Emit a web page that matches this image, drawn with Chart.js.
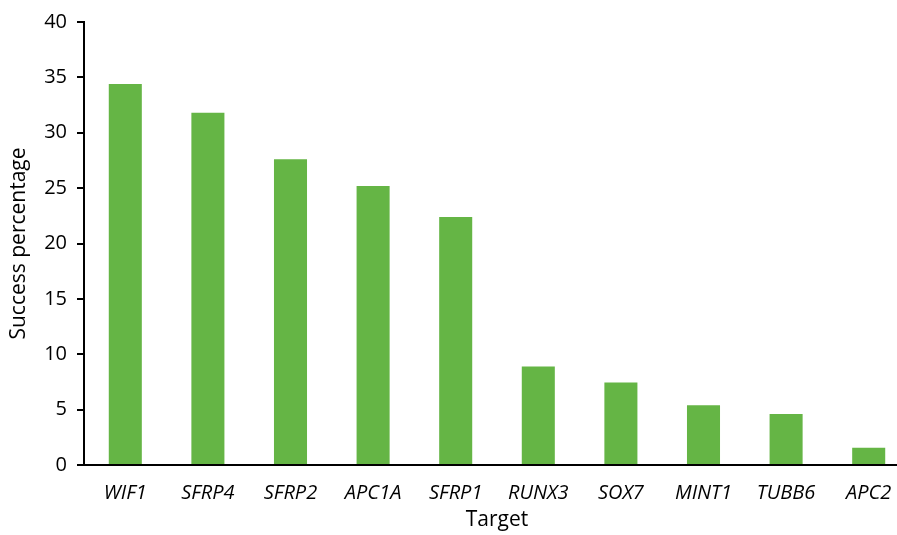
<!DOCTYPE html>
<html>
<head>
<meta charset="utf-8">
<script src="https://cdn.jsdelivr.net/npm/chart.js@4/dist/chart.umd.min.js"></script>
<style>
  html, body { margin: 0; padding: 0; background: #fff; overflow: hidden; }
  #wrap { width: 910px; height: 535px; }
</style>
</head>
<body>
<div id="wrap"><canvas id="grafico" width="910" height="535"></canvas></div>
<script>
const targets = ['WIF1', 'SFRP4', 'SFRP2', 'APC1A', 'SFRP1', 'RUNX3', 'SOX7', 'MINT1', 'TUBB6', 'APC2'];
const successPct = [34.4, 31.8, 27.6, 25.2, 22.4, 8.9, 7.45, 5.4, 4.6, 1.55];
const yTicks = [0, 5, 10, 15, 20, 25, 30, 35, 40];

const fuente = "'Open Sans', 'Noto Sans', sans-serif";

const ctx = document.getElementById('grafico').getContext('2d');
new Chart(ctx, {
  type: 'bar',
  data: {
    labels: targets,
    datasets: [{
      label: 'Success percentage',
      data: successPct,
      backgroundColor: '#65b545',
      barPercentage: 0.4,
      categoryPercentage: 1
    }]
  },
  options: {
    responsive: false,
    animation: false,
    layout: { padding: { top: 18, left: 0, right: 0, bottom: 0 } },
    plugins: { legend: { display: false }, tooltip: { enabled: false } },
    scales: {
      x: {
        grid: { display: false },
        border: { display: true, color: '#000', width: 2 },
        ticks: { color: '#000', font: { family: fuente, size: 20, style: 'italic' }, padding: 8, maxRotation: 0 },
        title: { display: true, text: 'Target', color: '#000', font: { family: fuente, size: 21 }, padding: { top: 0, bottom: 2 } },
        afterFit: s => { s.height = 70; }
      },
      y: {
        min: 0,
        max: 40,
        afterBuildTicks: s => { s.ticks = yTicks.map(v => ({ value: v })); },
        grid: { display: true, drawOnChartArea: false, drawTicks: true, tickLength: 7, color: '#000', lineWidth: 2 },
        border: { display: true, color: '#000', width: 2 },
        ticks: { color: '#000', font: { family: fuente, size: 20 }, padding: 10 },
        title: { display: true, text: 'Success percentage', color: '#000', font: { family: fuente, size: 21 }, padding: { top: 6, bottom: 0 } },
        afterFit: s => { s.width = 84; }
      }
    }
  }
});
</script>
</body>
</html>
